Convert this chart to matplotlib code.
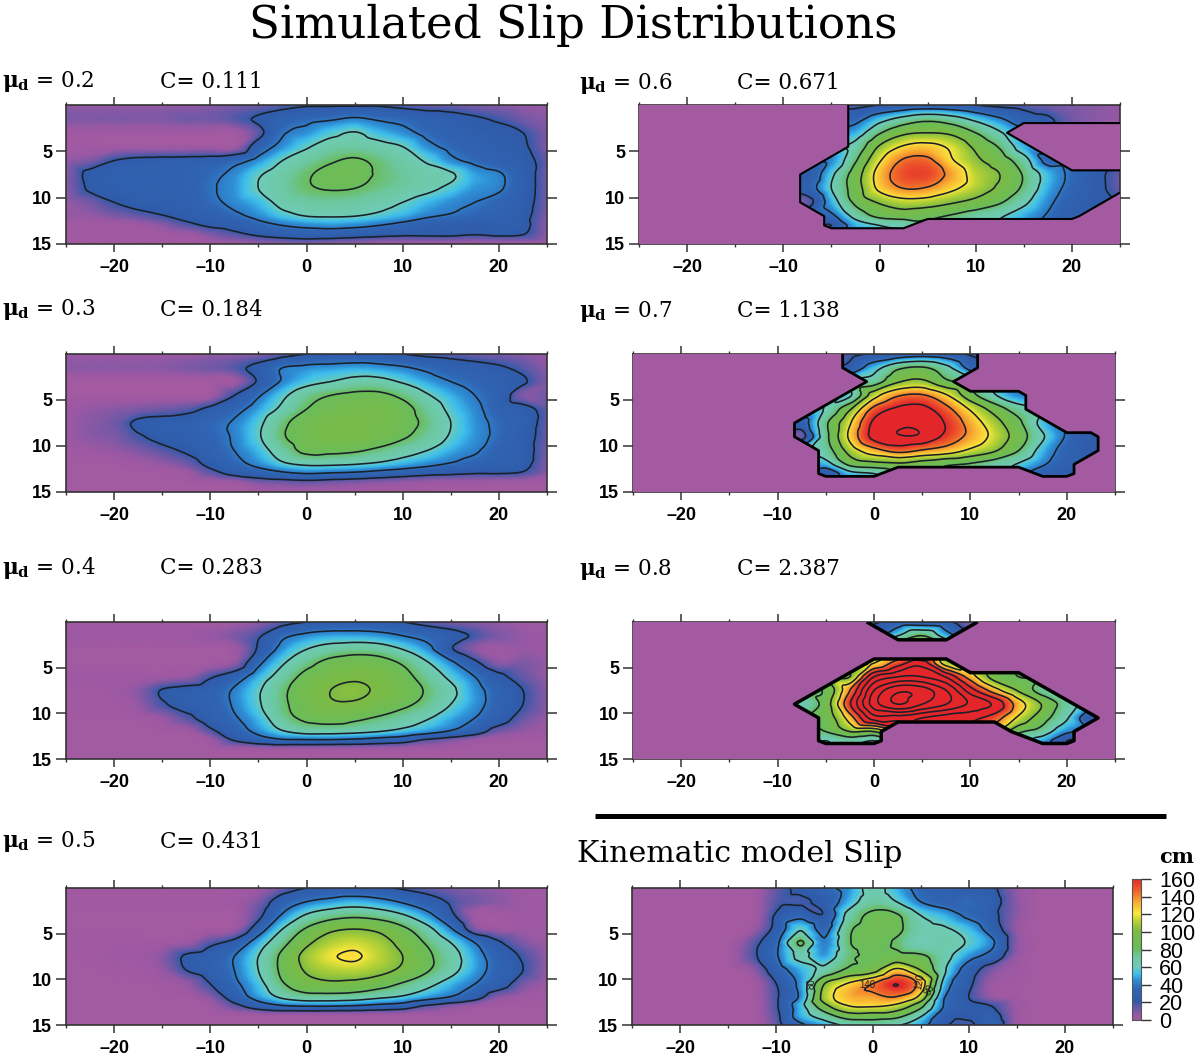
import numpy as np
import matplotlib
matplotlib.use("Agg")
import matplotlib.pyplot as plt
import matplotlib.tri as mtri
from matplotlib.colors import LinearSegmentedColormap, Normalize

x_km = [-25, -22.5, -20, -17.5, -15, -12.5, -10, -7.5, -5, -2.5, 0, 2.5, 5, 7.5, 10, 12.5, 15, 17.5, 20, 22.5, 25]
depth_km = [0, 1.5, 3, 4.5, 6, 7.5, 9, 10.5, 12, 13, 14, 15]
x_ticks = [-20, -10, 0, 10, 20]
x_ticklabels = ['–20', '–10', '0', '10', '20']
x_minor = [-25, -15, -5, 5, 15, 25]
y_ticks = [5, 10, 15]
cbar_ticks = [0, 20, 40, 60, 80, 100, 120, 140, 160]
contour_levels = [20, 40, 60, 80, 100, 120, 140, 160, 180, 200, 220, 240, 260]

slip_02 = [
 [6,6,6,6,6,6,8,10,12,15,18,18,18,18,15,12,12,10,8,6,6],
 [10,10,10,10,10,12,12,16,22,30,35,38,42,38,35,30,26,22,18,12,8],
 [2,2,2,2,2,2,2,2,15,38,45,55,61,52,45,36,30,26,24,20,10],
 [2,2,2,2,2,2,2,2,30,45,58,68,70,66,60,45,36,30,26,22,10],
 [6,10,20,24,25,26,28,34,45,60,70,78,82,76,68,58,44,36,30,25,14],
 [8,24,27,28,28,30,36,44,58,68,78,84,86,78,72,66,62,48,42,28,12],
 [8,22,26,28,28,30,38,46,60,70,78,81,80,75,70,64,56,46,42,28,12],
 [6,12,20,25,27,28,36,44,52,65,70,72,70,66,60,52,45,40,34,26,12],
 [6,6,10,14,19,24,28,36,44,54,60,61,60,56,50,42,38,34,30,24,10],
 [2,2,2,3,8,16,22,26,34,40,44,46,44,40,34,28,26,24,26,24,8],
 [2,2,2,2,2,3,10,16,22,26,28,28,26,24,22,22,22,20,22,20,8],
 [2,2,2,2,2,2,2,3,6,8,10,8,6,3,2,2,2,2,2,2,2],
]
slip_03 = [
 [4,4,4,4,4,4,6,6,8,14,20,22,24,24,20,16,14,12,10,8,6],
 [8,8,8,8,8,10,12,16,25,40,44,46,48,46,42,36,30,26,22,16,8],
 [1,1,1,1,1,1,1,3,22,42,54,60,66,66,58,48,40,34,28,22,10],
 [1,1,1,1,1,1,2,20,38,56,72,80,84,84,76,62,50,40,30,10,12],
 [4,6,8,10,12,15,24,34,48,64,80,88,92,92,86,72,56,44,32,26,14],
 [4,8,12,23,26,28,34,42,56,76,88,94,96,92,86,76,60,46,36,28,14],
 [4,8,10,18,24,27,34,42,58,78,88,94,94,90,82,72,58,46,36,26,14],
 [2,4,6,10,16,22,30,40,52,70,84,84,82,76,68,60,50,42,32,26,12],
 [1,1,1,3,6,12,24,34,44,56,62,62,60,56,50,44,38,32,28,24,10],
 [1,1,1,1,1,3,14,24,30,36,40,38,36,32,28,24,22,20,20,18,8],
 [1,1,1,1,1,1,1,3,10,12,14,12,10,8,6,4,3,3,2,2,2],
 [1,1,1,1,1,1,1,1,1,1,1,1,1,1,1,1,1,1,1,1,1],
]
slip_04 = [
 [1,1,1,1,1,1,1,2,6,14,20,24,26,24,20,14,10,8,6,4,3],
 [4,4,4,4,4,4,6,10,18,36,44,48,48,46,40,34,26,18,10,6,4],
 [1,1,1,1,1,1,1,3,22,46,60,68,72,70,60,46,22,8,4,6,4],
 [1,1,1,1,1,1,1,6,36,58,74,86,90,88,78,62,44,24,8,10,6],
 [3,3,3,3,3,5,18,30,50,68,86,94,98,96,86,72,56,40,24,14,6],
 [2,2,3,8,21,26,30,42,58,76,92,100,102,98,90,78,64,46,32,20,8],
 [2,2,2,6,18,26,30,42,58,76,90,98,98,92,84,74,60,46,32,20,8],
 [1,1,1,2,6,16,28,38,52,72,84,88,84,78,70,62,50,40,28,14,6],
 [1,1,1,1,1,2,16,30,44,58,66,66,64,60,54,46,38,28,12,6,3],
 [1,1,1,1,1,1,3,20,30,36,36,36,34,30,26,16,10,4,2,1,1],
 [1,1,1,1,1,1,1,1,1,1,1,1,1,1,1,1,1,1,1,1,1],
 [1,1,1,1,1,1,1,1,1,1,1,1,1,1,1,1,1,1,1,1,1],
]
slip_05 = [
 [1,1,1,1,1,1,1,1,3,12,20,24,24,22,18,14,10,8,6,3,2],
 [2,2,2,2,2,2,2,3,10,30,40,46,50,46,38,28,18,12,8,4,3],
 [1,1,1,1,1,1,1,1,16,42,62,72,76,72,62,46,24,3,2,3,3],
 [1,1,1,1,1,1,1,3,30,60,82,96,100,96,84,66,42,10,3,4,3],
 [2,2,2,2,2,4,16,26,50,74,96,110,114,108,94,78,60,40,22,10,4],
 [1,2,3,3,8,22,28,40,60,84,106,118,122,112,100,84,68,48,30,18,6],
 [1,1,2,2,6,20,28,40,60,84,102,110,112,106,96,82,66,48,32,20,6],
 [1,1,1,1,2,6,20,36,54,78,92,96,94,88,78,66,52,40,28,12,4],
 [1,1,1,1,1,1,8,28,46,62,70,70,68,62,56,46,38,26,8,3,2],
 [1,1,1,1,1,1,2,14,28,36,38,38,36,32,28,16,8,3,1,1,1],
 [1,1,1,1,1,1,1,1,1,1,1,1,1,1,1,1,1,1,1,1,1],
 [1,1,1,1,1,1,1,1,1,1,1,1,1,1,1,1,1,1,1,1,1],
]
slip_06 = [
 [0]*9 + [15,20,24,26,24,20,16,14,12,10,8,6],
 [0]*9 + [34,52,66,74,68,55,42,28,22,12,8,6],
 [0]*9 + [50,78,96,100,96,80,62,0,0,0,0,0],
 [0]*9 + [66,102,122,126,116,96,78,50,0,0,0,0],
 [0]*8 + [44,78,118,142,144,122,104,90,68,34,0,0,0],
 [0]*7 + [24,56,90,128,150,152,134,112,100,78,52,36,24,14],
 [0]*7 + [30,60,90,124,140,138,124,110,96,76,50,34,24,14],
 [0]*7 + [14,50,84,102,112,110,102,94,82,64,44,30,22,0],
 [0]*8 + [36,66,84,88,84,78,70,62,50,38,26,0,0],
 [0]*8 + [20,50,60,64,0,0,0,0,0,0,0,0,0],
 [0]*21,
 [0]*21,
]
slip_07 = [
 [0]*9 + [16,22,26,30,26,18,0,0,0,0,0,0],
 [0]*9 + [26,52,76,82,66,34,0,0,0,0,0,0],
 [0]*10 + [70,98,104,84,0,0,0,0,0,0,0],
 [0]*9 + [58,112,138,142,122,88,62,44,0,0,0,0],
 [0]*8 + [62,98,146,164,166,146,118,92,70,0,0,0,0],
 [0]*7 + [30,76,118,164,176,174,158,132,108,84,54,0,0,0],
 [0]*7 + [14,74,124,166,178,176,154,134,114,90,62,38,24,0],
 [0]*8 + [70,108,132,146,138,130,116,102,80,52,32,22,0],
 [0]*8 + [52,84,92,96,90,82,78,70,58,42,28,0,0],
 [0]*8 + [24,54,60,0,0,0,0,0,0,30,24,0,0],
 [0]*21,
 [0]*21,
]
slip_08 = [
 [0]*10 + [18,28,26,24,8,0,0,0,0,0,0],
 [0]*11 + [60,80,50,0,0,0,0,0,0,0],
 [0]*21,
 [0]*10 + [120,150,170,110,0,0,0,0,0,0,0],
 [0]*9 + [100,180,200,200,178,130,92,80,0,0,0,0],
 [0]*8 + [84,140,220,256,250,220,170,130,98,72,0,0,0],
 [0]*7 + [64,90,158,230,260,240,220,196,176,130,98,70,0,0],
 [0]*8 + [88,130,190,190,180,170,165,150,116,88,62,24,0],
 [0]*8 + [80,100,100,0,0,0,0,0,84,70,44,0,0],
 [0]*8 + [60,70,60,0,0,0,0,0,0,50,20,0,0],
 [0]*21,
 [0]*21,
]
slip_kin = [
 [0]*6 + [14,24,36,46,66,50,34,30,26,22,6,0,0,0,0],
 [0]*6 + [16,18,26,50,70,60,40,32,36,26,8,0,0,0,0],
 [0]*6 + [22,34,22,66,84,82,60,50,36,24,8,0,0,0,0],
 [0]*5 + [3,26,58,34,76,86,84,66,62,52,30,6,0,0,0,0],
 [0]*5 + [14,36,82,42,78,84,78,62,66,58,42,8,0,0,0,0],
 [0]*5 + [16,38,64,48,76,82,86,84,66,46,32,6,0,0,0,0],
 [0]*5 + [6,30,50,66,84,92,125,100,62,30,10,3,0,0,0,0],
 [0]*6 + [20,46,100,122,140,160,132,52,24,4,2,0,0,0,0],
 [0]*6 + [18,44,108,130,134,138,112,40,20,6,2,0,0,0,0],
 [0]*6 + [18,52,92,118,120,112,84,38,24,20,4,0,0,0,0],
 [0]*6 + [16,50,70,90,90,86,62,28,22,26,4,0,0,0,0],
 [0]*6 + [14,36,50,64,68,62,48,22,18,30,4,0,0,0,0],
]

friction_labels = ['0.2', '0.3', '0.4', '0.5', '0.6', '0.7', '0.8']
fit_labels = ['0.111', '0.184', '0.283', '0.431', '0.671', '1.138', '2.387']

W, H = 1200, 1057
PURPLE = '#A35AA1'
cmap = LinearSegmentedColormap.from_list('slip', [
    (0/160, PURPLE), (5/160, '#9A58A4'), (15/160, '#5F58A8'), (20/160, '#2F5BA9'),
    (35/160, '#2F66B5'), (45/160, '#2E8FD6'), (52/160, '#3FC0EE'), (60/160, '#6FCCB8'),
    (72/160, '#6CC8A0'), (80/160, '#6ABD5C'), (100/160, '#7CBB44'), (112/160, '#BBD435'),
    (120/160, '#FCE83C'), (132/160, '#F9B233'), (145/160, '#F0662A'), (160/160, '#E3262A')])
cmap.set_over('#E3262A')
norm = Normalize(0, 160)

plt.rcParams['font.family'] = ['Liberation Sans', 'DejaVu Sans']
plt.rcParams['mathtext.fontset'] = 'dejavuserif'
fig = plt.figure(figsize=(W / 100, H / 100), dpi=100, facecolor='white')


def add_axes(l, t, r, b):
    return fig.add_axes([l / W, 1 - b / H, (r - l) / W, (b - t) / H])


def extend_outward(Z):
    """Carry values past the rupture edge, so contours run up to it."""
    Z = Z.copy()
    for _ in range(12):
        pad = np.pad(Z, 1)
        stack = np.stack([pad[i:i + Z.shape[0], j:j + Z.shape[1]] for i in range(3) for j in range(3)])
        known = stack > 0
        mean = stack.sum(0) / np.maximum(known.sum(0), 1)
        Z = np.where((Z == 0) & known.any(0), mean * 0.95, Z)
    return Z


def panel(box, values, hard_lw=0):
    ax = add_axes(*box)
    ax.set_facecolor(PURPLE)
    X, Y = np.meshgrid(x_km, depth_km)
    Z = np.array(values, float)
    field = extend_outward(Z) if hard_lw else Z
    tri = mtri.Triangulation(X.ravel(), Y.ravel())
    smooth = mtri.CubicTriInterpolator(tri, field.ravel(), kind='geom')
    fx, fy = np.meshgrid(np.linspace(-25, 25, 251), np.linspace(0, 15, 121))
    F = np.ma.filled(smooth(fx, fy), 0.0)
    F = np.clip(F, 0, None)
    ax.pcolormesh(fx, fy, F, shading='gouraud', cmap=cmap, norm=norm, rasterized=True, zorder=1)
    ax.contour(fx, fy, F, levels=contour_levels, colors='#1b2029', linewidths=1.15, zorder=2)
    if hard_lw:
        mask = (Z > 0).astype(float)
        ax.contourf(X, Y, mask, levels=[-0.5, 0.7], colors=[PURPLE], zorder=3)
        ax.contour(X, Y, mask, levels=[0.7], colors='black', linewidths=hard_lw, zorder=4)
    ax.set_xlim(-25, 25)
    ax.set_ylim(15, 0)
    ax.set_xticks(x_ticks)
    ax.set_xticklabels(x_ticklabels, fontweight='bold', fontsize=13)
    ax.set_xticks(x_minor, minor=True)
    ax.set_yticks(y_ticks)
    ax.set_yticklabels([str(v) for v in y_ticks], fontweight='bold', fontsize=13)
    ax.tick_params(axis='x', which='major', top=True, direction='out', length=6, width=1.1, color='#333333', pad=5)
    ax.tick_params(axis='x', which='minor', top=True, direction='out', length=2.5, width=1.0, color='#333333')
    ax.tick_params(axis='y', which='major', right=True, direction='out', length=7, width=1.1, color='#333333', pad=3)
    for s in ax.spines.values():
        s.set_linewidth(1.2)
        s.set_color('#333333')
    return ax


def label(x, y, mu, c, cx):
    fig.text(x / W, 1 - y / H, r'$\mathbf{\mu_d}$' + ' = ' + mu, family='DejaVu Serif', fontsize=15.5, va='center', ha='left')
    fig.text(cx / W, 1 - y / H, 'C= ' + c, family='DejaVu Serif', fontsize=15.5, va='center', ha='left')


boxes_left = [(66, 105, 547, 244), (66, 354, 547, 492), (66, 622, 547, 759), (66, 888, 547, 1025)]
for box, vals in zip(boxes_left, [slip_02, slip_03, slip_04, slip_05]):
    panel(box, vals)
panel((639, 105, 1120, 244), slip_06, hard_lw=1.5)
panel((633, 354, 1115, 492), slip_07, hard_lw=2.0)
panel((633, 622, 1115, 759), slip_08, hard_lw=2.5)
kin = panel((632, 888, 1113, 1025), slip_kin)
for tx, ty, s, rot in [(-0.5, 10.6, '140', 0), (-6.3, 10.5, '80', 90), (4.9, 10.2, '120', 80), (5.9, 11.2, '80', 60)]:
    kin.text(tx, ty, s, fontsize=7, ha='center', va='center', rotation=rot, color='#222222', zorder=5)

ys_left = [82, 310, 568, 842]
ys_right = [83, 311, 569]
for i in range(4):
    label(2, ys_left[i], friction_labels[i], fit_labels[i], 160)
for i in range(3):
    label(579, ys_right[i], friction_labels[4 + i], fit_labels[4 + i], 737)

fig.text(573 / W, 1 - 25 / H, 'Simulated Slip Distributions', family='DejaVu Serif', fontsize=32.6, ha='center', va='center')
fig.text(577 / W, 1 - 854 / H, 'Kinematic model Slip', family='DejaVu Serif', fontsize=21.6, ha='left', va='center')
fig.text(1177 / W, 1 - 857 / H, 'cm', family='DejaVu Serif', fontweight='bold', fontsize=15, ha='center', va='center')

fig.add_artist(plt.Line2D([595 / W, 1166 / W], [1 - 816 / H] * 2, color='black', lw=3.6, solid_capstyle='butt'))

cax = add_axes(1132, 879, 1141, 1020)
grad = np.linspace(0, 160, 256).reshape(-1, 1)
cax.imshow(grad, aspect='auto', cmap=cmap, norm=norm, origin='lower', extent=[0, 1, 0, 160])
cax.set_xticks([])
cax.set_yticks(cbar_ticks)
cax.yaxis.tick_right()
cax.set_yticklabels([str(v) for v in cbar_ticks], fontsize=15.5)
cax.tick_params(axis='y', length=7, width=1, pad=6, color='#333333')
for s in cax.spines.values():
    s.set_linewidth(0.8)
    s.set_color('#555555')

fig.savefig('out.png', dpi=100)
